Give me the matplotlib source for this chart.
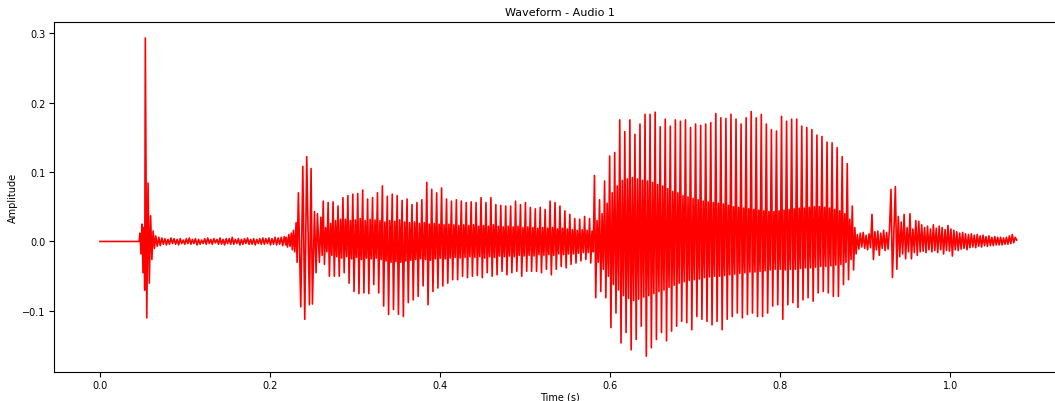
import numpy as np
import matplotlib
matplotlib.use("Agg")
import matplotlib.pyplot as plt

# --- values (seconds / amplitude) ---

# leading silence
silence_t = [0.0, 0.046]
silence_a = [0.0, 0.0]

# first click / burst
burst1_t = [0.0470, 0.0482, 0.0494, 0.0506, 0.0518, 0.0526, 0.0533, 0.0550, 0.0565,
            0.0580, 0.0595, 0.0610, 0.0625, 0.0640]
burst1_a = [0.012, -0.018, 0.025, -0.045, 0.020, -0.070, 0.293, -0.110, 0.084,
            -0.060, 0.037, -0.026, 0.015, -0.010]

# low-level noise between the click and the second burst
noise1_span = (0.0655, 0.2185)
noise1_a = [0.008, -0.007, 0.006, -0.006, 0.005, -0.004, 0.004, -0.005, 0.003, -0.004,
            0.005, -0.003, 0.004, -0.004, 0.003, -0.005, 0.004, -0.003, 0.002, -0.004,
            0.004, -0.003, 0.005, -0.004, 0.003, -0.003, 0.004, -0.005, 0.003, -0.004,
            0.002, -0.003, 0.004, -0.004, 0.005, -0.003, 0.003, -0.004, 0.004, -0.002,
            0.003, -0.004, 0.005, -0.004, 0.003, -0.005, 0.004, -0.003, 0.004, -0.004,
            0.006, -0.004, 0.003, -0.003, 0.004, -0.005, 0.003, -0.004, 0.004, -0.003,
            0.005, -0.004, 0.003, -0.004, 0.004, -0.005, 0.003, -0.003, 0.004, -0.004,
            0.005, -0.004, 0.004, -0.003, 0.005, -0.005, 0.004, -0.004, 0.006, -0.005,
            0.005, -0.004, 0.006, -0.006, 0.007, -0.005]

# second burst
burst2_t = [0.2190, 0.2205, 0.2220, 0.2235, 0.2250, 0.2262, 0.2275, 0.2290, 0.2306,
            0.2318, 0.2333, 0.2361, 0.2385, 0.2408, 0.2431, 0.2463, 0.2482, 0.2498,
            0.2522, 0.2541, 0.2557, 0.2580, 0.2598, 0.2612]
burst2_a = [0.006, -0.008, 0.010, -0.007, 0.012, -0.012, 0.016, -0.015, 0.027,
            -0.030, 0.070, -0.094, 0.108, -0.112, 0.122, -0.091, 0.105, -0.090,
            0.043, -0.045, 0.040, -0.030, 0.035, -0.020]

# first voiced part: one entry per pitch period
voiced1_start = 0.2625
voiced1_period = 0.0058
voiced1_hi = [0.058, 0.056, 0.057, 0.051, 0.063, 0.066, 0.068, 0.069, 0.074, 0.061,
              0.063, 0.070, 0.080, 0.065, 0.068, 0.066, 0.059, 0.061, 0.053, 0.056,
              0.060, 0.085, 0.075, 0.070, 0.077, 0.061, 0.058, 0.060, 0.058, 0.056,
              0.057, 0.056, 0.063, 0.056, 0.063, 0.053, 0.052, 0.051, 0.051, 0.058,
              0.053, 0.056, 0.049, 0.047, 0.049, 0.046, 0.058, 0.056, 0.051, 0.044,
              0.039, 0.033, 0.032, 0.036, 0.033]
voiced1_lo = [-0.033, -0.050, -0.050, -0.050, -0.045, -0.060, -0.072, -0.075, -0.074, -0.075,
              -0.062, -0.074, -0.093, -0.105, -0.098, -0.105, -0.108, -0.088, -0.084, -0.079,
              -0.064, -0.091, -0.072, -0.067, -0.064, -0.060, -0.055, -0.055, -0.050, -0.052,
              -0.050, -0.049, -0.052, -0.045, -0.050, -0.048, -0.043, -0.048, -0.045, -0.043,
              -0.050, -0.043, -0.043, -0.043, -0.045, -0.040, -0.048, -0.040, -0.036, -0.038,
              -0.033, -0.031, -0.028, -0.026, -0.031]
# ringing inside each period: (upper, lower)
voiced1_in_hi = [0.020, 0.026, 0.030, 0.032, 0.032, 0.030, 0.031, 0.033, 0.030, 0.032,
                 0.031, 0.030, 0.028, 0.030, 0.029, 0.031, 0.028, 0.027, 0.028, 0.026,
                 0.027, 0.025, 0.026, 0.025, 0.024, 0.025, 0.024, 0.023, 0.024, 0.023,
                 0.024, 0.022, 0.023, 0.022, 0.024, 0.022, 0.021, 0.022, 0.021, 0.022,
                 0.020, 0.021, 0.020, 0.019, 0.020, 0.019, 0.020, 0.018, 0.019, 0.018,
                 0.017, 0.016, 0.017, 0.016, 0.015]
voiced1_in_lo = [-0.015, -0.020, -0.022, -0.024, -0.022, -0.025, -0.023, -0.026, -0.024, -0.025,
                 -0.024, -0.026, -0.028, -0.030, -0.029, -0.030, -0.028, -0.027, -0.026, -0.025,
                 -0.026, -0.027, -0.025, -0.024, -0.025, -0.024, -0.023, -0.024, -0.023, -0.022,
                 -0.023, -0.022, -0.024, -0.022, -0.023, -0.021, -0.022, -0.021, -0.022, -0.020,
                 -0.021, -0.020, -0.021, -0.019, -0.020, -0.019, -0.020, -0.018, -0.019, -0.018,
                 -0.018, -0.017, -0.016, -0.016, -0.015]

# second (louder) voiced part
voiced2_start = 0.5815
voiced2_period = 0.005945
voiced2_hi = [0.095, 0.060, 0.087, 0.123, 0.128, 0.175, 0.158, 0.175, 0.154, 0.169,
              0.183, 0.183, 0.186, 0.165, 0.176, 0.166, 0.175, 0.173, 0.175, 0.164,
              0.169, 0.167, 0.169, 0.171, 0.184, 0.178, 0.177, 0.183, 0.176, 0.169,
              0.178, 0.187, 0.178, 0.183, 0.169, 0.161, 0.159, 0.180, 0.173, 0.176,
              0.176, 0.166, 0.164, 0.161, 0.153, 0.151, 0.143, 0.142, 0.135, 0.122,
              0.112, 0.051]
voiced2_lo = [-0.081, -0.072, -0.081, -0.124, -0.103, -0.146, -0.131, -0.156, -0.141, -0.122,
              -0.165, -0.153, -0.141, -0.131, -0.143, -0.129, -0.122, -0.115, -0.117, -0.127,
              -0.108, -0.112, -0.115, -0.120, -0.115, -0.127, -0.112, -0.108, -0.103, -0.110,
              -0.105, -0.103, -0.108, -0.108, -0.103, -0.093, -0.091, -0.112, -0.091, -0.088,
              -0.095, -0.084, -0.081, -0.086, -0.074, -0.072, -0.074, -0.079, -0.079, -0.062,
              -0.055, -0.041]
voiced2_in_hi = [0.030, 0.040, 0.055, 0.070, 0.080, 0.088, 0.090, 0.092, 0.090, 0.088,
                 0.087, 0.085, 0.082, 0.080, 0.076, 0.072, 0.070, 0.066, 0.064, 0.062,
                 0.060, 0.058, 0.057, 0.056, 0.055, 0.054, 0.052, 0.050, 0.049, 0.048,
                 0.047, 0.046, 0.045, 0.044, 0.043, 0.043, 0.044, 0.045, 0.046, 0.047,
                 0.048, 0.048, 0.049, 0.050, 0.050, 0.049, 0.048, 0.046, 0.044, 0.040,
                 0.032, 0.020]
voiced2_in_lo = [-0.030, -0.040, -0.050, -0.062, -0.070, -0.078, -0.082, -0.085, -0.083, -0.080,
                 -0.078, -0.075, -0.072, -0.070, -0.066, -0.063, -0.060, -0.058, -0.056, -0.055,
                 -0.054, -0.052, -0.051, -0.050, -0.050, -0.049, -0.048, -0.047, -0.046, -0.045,
                 -0.044, -0.044, -0.043, -0.042, -0.041, -0.040, -0.040, -0.041, -0.040, -0.040,
                 -0.039, -0.038, -0.038, -0.037, -0.036, -0.036, -0.035, -0.034, -0.033, -0.030,
                 -0.026, -0.018]

# decaying tail
tail_end = 1.078
tail_a = [0.010, -0.011, 0.012, -0.008, 0.013, -0.010, 0.009, -0.012, 0.011, -0.009,
          0.039, -0.026, 0.014, -0.012, 0.015, -0.020, 0.012, -0.010, 0.016, -0.013,
          0.013, -0.011, 0.018, 0.075, -0.052, 0.012, 0.079, -0.040, 0.036, -0.022,
          0.028, -0.018, 0.039, -0.025, 0.020, -0.015, 0.040, -0.025, 0.018, -0.016,
          0.030, -0.020, 0.029, -0.015, 0.024, -0.014, 0.020, -0.016, 0.022, -0.012,
          0.018, -0.015, 0.024, -0.013, 0.019, -0.016, 0.022, -0.012, 0.020, -0.018,
          0.017, -0.013, 0.023, -0.014, 0.018, -0.021, 0.016, -0.012, 0.014, -0.013,
          0.012, -0.011, 0.013, -0.010, 0.011, -0.012, 0.010, -0.009, 0.011, -0.008,
          0.009, -0.009, 0.010, -0.007, 0.008, -0.008, 0.009, -0.006, 0.007, -0.007,
          0.008, -0.006, 0.006, -0.006, 0.007, -0.005, 0.006, -0.005, 0.006, -0.005,
          0.005, -0.004, 0.006, -0.004, 0.008, -0.003, 0.010, -0.002, 0.006, 0.002]


def voiced(start, period, hi, lo, in_hi, in_lo):
    # each period: main peak, main trough, then one ringing swing
    t, a = [], []
    for i, (h, l, mh, ml) in enumerate(zip(hi, lo, in_hi, in_lo)):
        t0 = start + i * period
        t.extend(t0 + np.arange(4) * period / 4)
        a.extend([h, l, mh, ml])
    return t, a


def build_signal():
    t, a = list(silence_t), list(silence_a)
    t += burst1_t
    a += burst1_a
    t += list(np.linspace(noise1_span[0], noise1_span[1], len(noise1_a)))
    a += noise1_a
    t += burst2_t
    a += burst2_a
    vt, va = voiced(voiced1_start, voiced1_period, voiced1_hi, voiced1_lo,
                    voiced1_in_hi, voiced1_in_lo)
    t += vt
    a += va
    vt, va = voiced(voiced2_start, voiced2_period, voiced2_hi, voiced2_lo,
                    voiced2_in_hi, voiced2_in_lo)
    t += vt
    a += va
    tail_start = voiced2_start + len(voiced2_hi) * voiced2_period
    t += list(np.linspace(tail_start, tail_end, len(tail_a)))
    a += tail_a
    return np.array(t), np.array(a)


def main():
    t, a = build_signal()

    fig = plt.figure(figsize=(10.55, 4.02), dpi=100)
    # the axes run a little past the right edge, as in the cropped original
    ax = fig.add_axes([54 / 1055, 29 / 402, 1012 / 1055, 350 / 402])
    ax.plot(t, a, color="red", linewidth=1.2)
    ax.set_xlim(-0.0541, 1.136)

    ax.set_title("Waveform - Audio 1", fontsize=8, pad=5)
    ax.set_xlabel("Time (s)", fontsize=7, labelpad=1)
    ax.set_ylabel("Amplitude", fontsize=7, labelpad=3)
    ax.tick_params(labelsize=7, pad=2.5)

    fig.savefig("out.png", dpi=100)
    plt.close(fig)


if __name__ == "__main__":
    main()
